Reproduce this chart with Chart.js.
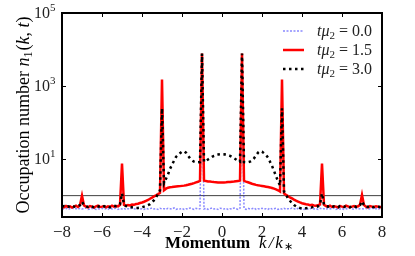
<!DOCTYPE html>
<html><head><meta charset="utf-8">
<script src="https://cdn.jsdelivr.net/npm/chart.js@4"></script>
<style>html,body{margin:0;padding:0;background:#fff;}canvas{display:block}</style>
</head><body>
<canvas id="c" width="415" height="256"></canvas>
<script>
// Momentum grid k/k*
const momentum = [
-8,-7.9,-7.8,-7.7,-7.6,-7.5,-7.4,-7.3,-7.2,-7.1,
-7,-6.9,-6.8,-6.7,-6.6,-6.5,-6.4,-6.3,-6.2,-6.1,
-6,-5.9,-5.8,-5.7,-5.6,-5.5,-5.4,-5.3,-5.2,-5.1,
-5,-4.9,-4.8,-4.7,-4.6,-4.5,-4.4,-4.3,-4.2,-4.1,
-4,-3.9,-3.8,-3.7,-3.6,-3.5,-3.4,-3.3,-3.2,-3.1,
-3,-2.9,-2.8,-2.7,-2.6,-2.5,-2.4,-2.3,-2.2,-2.1,
-2,-1.9,-1.8,-1.7,-1.6,-1.5,-1.4,-1.3,-1.2,-1.1,
-1,-0.9,-0.8,-0.7,-0.6,-0.5,-0.4,-0.3,-0.2,-0.1,
0,0.1,0.2,0.3,0.4,0.5,0.6,0.7,0.8,0.9,
1,1.1,1.2,1.3,1.4,1.5,1.6,1.7,1.8,1.9,
2,2.1,2.2,2.3,2.4,2.5,2.6,2.7,2.8,2.9,
3,3.1,3.2,3.3,3.4,3.5,3.6,3.7,3.8,3.9,
4,4.1,4.2,4.3,4.4,4.5,4.6,4.7,4.8,4.9,
5,5.1,5.2,5.3,5.4,5.5,5.6,5.7,5.8,5.9,
6,6.1,6.2,6.3,6.4,6.5,6.6,6.7,6.8,6.9,
7,7.1,7.2,7.3,7.4,7.5,7.6,7.7,7.8,7.9,
8];

// t mu2 = 0.0
const occT00 = [
0.44,0.43,0.45,0.42,0.44,0.46,0.43,0.44,0.42,0.45,
0.43,0.44,0.46,0.42,0.43,0.45,0.44,0.42,0.44,0.43,
0.45,0.43,0.44,0.42,0.46,0.43,0.44,0.45,0.42,0.44,
0.43,0.45,0.42,0.44,0.43,0.46,0.44,0.42,0.45,0.43,
0.44,0.42,0.45,0.43,0.44,0.46,0.43,0.44,0.42,0.45,
0.43,0.44,0.42,0.45,0.44,0.43,0.46,0.42,0.44,0.43,
0.45,0.42,0.44,0.43,0.46,0.44,0.42,0.45,0.43,0.44,
4000,0.43,0.45,0.42,0.44,0.46,0.43,0.44,0.42,0.45,
0.44,0.43,0.45,0.42,0.44,0.43,0.46,0.44,0.42,0.45,
4000,0.44,0.42,0.45,0.43,0.44,0.46,0.42,0.44,0.43,
0.45,0.43,0.44,0.42,0.46,0.43,0.44,0.45,0.42,0.44,
0.43,0.45,0.42,0.44,0.43,0.46,0.44,0.42,0.45,0.43,
0.44,0.42,0.45,0.43,0.44,0.46,0.43,0.44,0.42,0.45,
0.43,0.44,0.42,0.45,0.44,0.43,0.46,0.42,0.44,0.43,
0.45,0.42,0.44,0.43,0.46,0.44,0.42,0.45,0.43,0.44,
0.44,0.43,0.45,0.42,0.44,0.46,0.43,0.44,0.42,0.45,
0.44];

// t mu2 = 1.5
const occT15 = [
0.50,0.48,0.52,0.49,0.51,0.47,0.50,0.53,0.49,0.55,
1.0,0.54,0.50,0.48,0.52,0.50,0.47,0.51,0.53,0.49,
0.50,0.52,0.48,0.51,0.49,0.53,0.50,0.52,0.51,0.56,
7.5,0.56,0.53,0.55,0.54,0.57,0.56,0.59,0.60,0.63,
0.65,0.68,0.72,0.76,0.82,0.88,0.95,1.02,1.10,1.20,
1500,1.40,1.55,1.65,1.70,1.72,1.75,1.78,1.80,1.82,
1.85,1.88,1.92,1.98,2.05,2.12,2.20,2.30,2.40,2.55,
7800,2.60,2.50,2.45,2.42,2.38,2.35,2.33,2.30,2.28,
2.28,2.30,2.32,2.35,2.37,2.40,2.43,2.47,2.50,2.60,
7800,2.55,2.42,2.32,2.22,2.12,2.04,1.97,1.92,1.88,
1.84,1.80,1.76,1.72,1.68,1.62,1.55,1.48,1.40,1.30,
1500,1.15,1.05,0.97,0.90,0.84,0.78,0.73,0.69,0.65,
0.62,0.60,0.58,0.57,0.55,0.56,0.54,0.53,0.55,0.57,
7.5,0.56,0.52,0.50,0.53,0.49,0.51,0.50,0.48,0.52,
0.50,0.49,0.53,0.51,0.48,0.50,0.52,0.49,0.51,0.56,
1.05,0.55,0.50,0.48,0.52,0.50,0.49,0.51,0.50,0.48,
0.50];

// t mu2 = 3.0
const occT30 = [
0.50,0.52,0.49,0.51,0.48,0.52,0.50,0.49,0.53,0.55,
0.68,0.54,0.51,0.49,0.52,0.50,0.48,0.51,0.50,0.52,
0.49,0.51,0.50,0.52,0.48,0.50,0.53,0.51,0.52,0.58,
1.15,0.57,0.52,0.50,0.49,0.48,0.47,0.46,0.46,0.47,
0.48,0.50,0.52,0.55,0.58,0.65,0.75,0.90,1.10,1.40,
245,2.2,2.9,3.8,5.4,7.0,9.0,11.5,13.0,14.5,
16.0,16.5,15.0,12.5,10.5,9.2,8.5,8.2,8.2,8.3,
7800,8.5,9.0,9.8,10.6,11.5,12.3,12.9,13.3,13.5,
13.4,13.5,13.3,12.9,12.3,11.5,10.6,9.8,9.0,8.5,
7800,8.3,8.2,8.2,8.5,9.2,10.5,12.5,15.0,16.5,
16.0,14.5,13.0,11.0,8.5,6.5,4.8,3.4,2.5,1.9,
245,1.3,1.05,0.85,0.72,0.62,0.55,0.51,0.48,0.46,
0.45,0.44,0.45,0.46,0.47,0.48,0.50,0.49,0.51,0.57,
1.15,0.56,0.52,0.50,0.53,0.49,0.51,0.50,0.48,0.52,
0.51,0.49,0.52,0.50,0.48,0.51,0.53,0.49,0.50,0.55,
0.70,0.54,0.50,0.49,0.52,0.50,0.48,0.51,0.50,0.49,
0.50];

const seriesTimes = ['0.0', '1.5', '3.0'];
const xTickValues = [-8, -6, -4, -2, 0, 2, 4, 6, 8];
const yTickValues = [10, 1000, 100000];
const yTickExponents = ['1', '3', '5'];
const referenceLevel = 1;
const xRange = [-8, 8];
const yRange = [0.26, 100000];

const SERIF = '"Liberation Serif", "Times New Roman", serif';
const toPoints = arr => arr.map((v, i) => ({x: momentum[i], y: v}));

const seriesStyles = [
  {color: 'rgba(40,40,255,0.55)', width: 1.5, dash: [2, 1.5]},
  {color: '#ff0000', width: 2.5, dash: []},
  {color: '#000000', width: 2.5, dash: [2.5, 3.5]}
];

function drawPieces(ctx, pieces, x, y) {
  // pieces: [text, font, dy, extraSpaceAfter]
  let cx = x;
  pieces.forEach(p => {
    ctx.font = p[1];
    ctx.fillText(p[0], cx, y + (p[2] || 0));
    cx += ctx.measureText(p[0]).width + (p[3] || 0);
  });
  return cx - x;
}
function measurePieces(ctx, pieces) {
  let w = 0;
  pieces.forEach(p => { ctx.font = p[1]; w += ctx.measureText(p[0]).width + (p[3] || 0); });
  return w;
}

const decor = {
  id: 'decor',
  afterDatasetsDraw(chart) {
    const {ctx, chartArea: a, scales: {x, y}} = chart;
    ctx.save();
    ctx.strokeStyle = '#000';
    ctx.lineWidth = 1;
    ctx.beginPath();
    xTickValues.forEach(v => {
      const px = Math.round(x.getPixelForValue(v)) + 0.5;
      ctx.moveTo(px, a.bottom); ctx.lineTo(px, a.bottom - 4);
      ctx.moveTo(px, a.top); ctx.lineTo(px, a.top + 4);
    });
    yTickValues.forEach(v => {
      const py = Math.round(y.getPixelForValue(v)) + 0.5;
      ctx.moveTo(a.left, py); ctx.lineTo(a.left + 4, py);
      ctx.moveTo(a.right, py); ctx.lineTo(a.right - 4, py);
    });
    ctx.stroke();
    ctx.lineWidth = 2;
    ctx.strokeRect(a.left, a.top, a.right - a.left, a.bottom - a.top);

    // y tick labels 10^n
    ctx.fillStyle = '#222';
    ctx.textBaseline = 'alphabetic';
    ctx.textAlign = 'left';
    yTickValues.forEach((v, i) => {
      const py = y.getPixelForValue(v);
      const base = ['10', '16px ' + SERIF, 0];
      const sup = [yTickExponents[i], '11px ' + SERIF, -7];
      const w = measurePieces(ctx, [base, sup]);
      drawPieces(ctx, [base, sup], a.left - 6.5 - w, py + 4.5);
    });

    // x title
    ctx.fillStyle = '#000';
    const xt = [
      ['Momentum', 'bold 17px ' + SERIF, 0, 9],
      ['k', 'italic 17px ' + SERIF, 0, 2],
      ['/', 'italic 17px ' + SERIF, 0, 2],
      ['k', 'italic 17px ' + SERIF, 0, 1],
      ['\u2217', '11px ' + SERIF, 2, 0]
    ];
    const xw = measurePieces(ctx, xt);
    drawPieces(ctx, xt, (a.left + a.right) / 2 + 7 - xw / 2, 248);

    // y title (rotated)
    const yt = [
      ['Occupation number ', '18px ' + SERIF, 0],
      ['n', 'italic 18px ' + SERIF, 0],
      ['1', '12px ' + SERIF, 3, 1],
      ['(', '18px ' + SERIF, 0],
      ['k', 'italic 18px ' + SERIF, 0],
      [', ', '18px ' + SERIF, 0],
      ['t', 'italic 18px ' + SERIF, 0],
      [')', '18px ' + SERIF, 0]
    ];
    const yw = measurePieces(ctx, yt);
    ctx.save();
    ctx.translate(29, 115);
    ctx.rotate(-Math.PI / 2);
    drawPieces(ctx, yt, -yw / 2, 0);
    ctx.restore();

    // legend
    seriesTimes.forEach((t, i) => {
      const st = seriesStyles[i];
      const ly = a.top + 18 + i * 19;
      ctx.save();
      ctx.strokeStyle = st.color;
      ctx.lineWidth = st.width;
      ctx.setLineDash(st.dash);
      ctx.beginPath();
      ctx.moveTo(a.right - 99, ly);
      ctx.lineTo(a.right - 78, ly);
      ctx.stroke();
      ctx.restore();
      ctx.fillStyle = '#222';
      drawPieces(ctx, [
        ['t\u03BC', 'italic 16px ' + SERIF, 0],
        ['2', '11px ' + SERIF, 3],
        [' = ' + t, '16px ' + SERIF, 0]
      ], a.right - 65, ly + 4.5);
    });
    ctx.restore();
  }
};

const seriesData = [occT00, occT15, occT30];
const datasets = seriesData.map((arr, i) => ({
  label: 't\u03BC\u2082 = ' + seriesTimes[i],
  data: toPoints(arr),
  borderColor: seriesStyles[i].color,
  borderWidth: seriesStyles[i].width,
  borderDash: seriesStyles[i].dash,
  borderCapStyle: 'butt',
  pointRadius: 0,
  tension: 0,
  fill: false,
  order: 3 - i
}));
datasets.push({
  label: 'reference',
  data: [{x: xRange[0], y: referenceLevel}, {x: xRange[1], y: referenceLevel}],
  borderColor: 'rgba(0,0,0,0.75)',
  borderWidth: 1,
  pointRadius: 0,
  order: 10
});

new Chart(document.getElementById('c'), {
  type: 'line',
  data: {datasets},
  options: {
    responsive: false,
    animation: false,
    devicePixelRatio: 1,
    layout: {padding: {left: 0, right: 33, top: 13, bottom: 0}},
    plugins: {legend: {display: false}, tooltip: {enabled: false}},
    scales: {
      x: {
        type: 'linear', min: xRange[0], max: xRange[1],
        grid: {display: false, drawTicks: false},
        border: {display: false},
        afterBuildTicks: s => { s.ticks = xTickValues.map(v => ({value: v})); },
        ticks: {
          padding: 5, color: '#222', font: {family: SERIF, size: 17},
          maxRotation: 0, autoSkip: false,
          callback: v => v < 0 ? '\u2212' + Math.abs(v) : String(v)
        },
        afterFit: s => { s.height = 39; }
      },
      y: {
        type: 'logarithmic', min: yRange[0], max: yRange[1],
        grid: {display: false, drawTicks: false},
        border: {display: false},
        ticks: {display: false},
        afterFit: s => { s.width = 62; }
      }
    }
  },
  plugins: [decor]
});
</script>
</body></html>
